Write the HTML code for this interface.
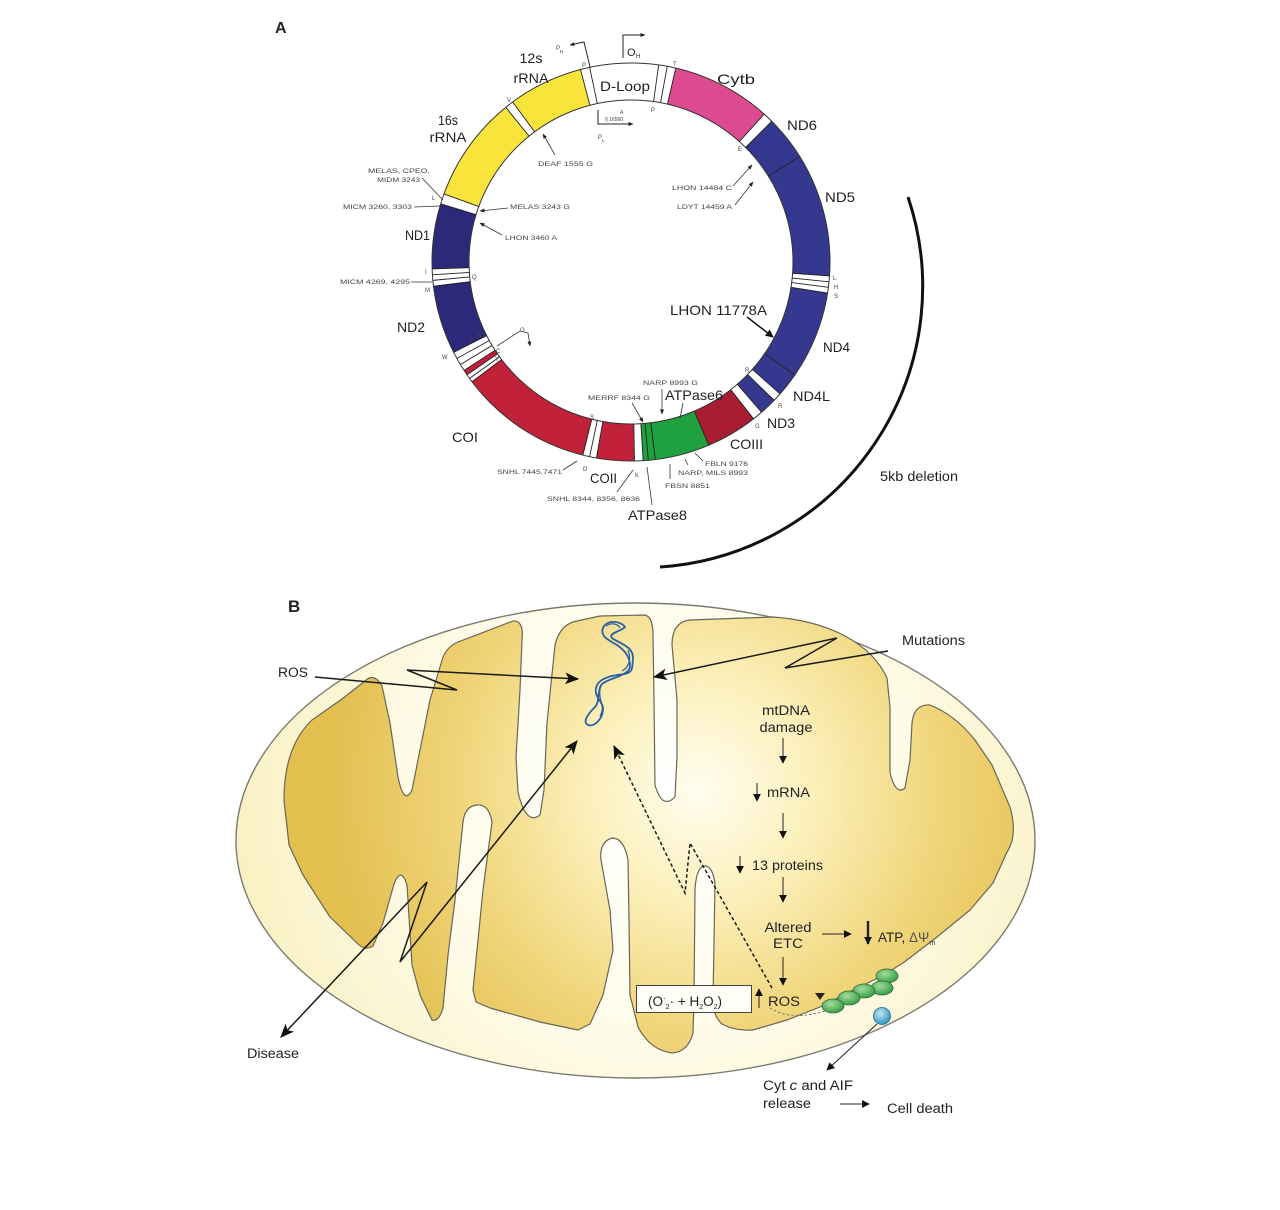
<!DOCTYPE html>
<html>
<head>
<meta charset="utf-8">
<style>
html,body{margin:0;padding:0;background:#fff;}
svg{display:block;}
text{font-family:"Liberation Sans",Arial,sans-serif;fill:#222;}
.t{font-size:14px;}
.b{font-size:13.5px;}
.s{font-size:6.5px;fill:#444;}
.x{font-size:6px;fill:#444;}
</style>
</head>
<body>
<svg width="1280" height="1210" viewBox="0 0 1280 1210" xmlns="http://www.w3.org/2000/svg">
<defs>
  <marker id="big" viewBox="0 0 12 10" refX="11" refY="5" markerWidth="14" markerHeight="12" orient="auto-start-reverse" markerUnits="userSpaceOnUse">
    <path d="M0,0 L12,5 L0,10 L3,5 Z" fill="#111"/>
  </marker>
  <marker id="med" viewBox="0 0 10 10" refX="9" refY="5" markerWidth="8" markerHeight="8" orient="auto-start-reverse" markerUnits="userSpaceOnUse">
    <path d="M0,0 L10,5 L0,10 Z" fill="#111"/>
  </marker>
  <marker id="sm" viewBox="0 0 10 10" refX="9" refY="5" markerWidth="5" markerHeight="5" orient="auto" markerUnits="userSpaceOnUse">
    <path d="M0,1 L10,5 L0,9 Z" fill="#222"/>
  </marker>
  <radialGradient id="outerG" gradientUnits="userSpaceOnUse" cx="660" cy="800" r="430">
    <stop offset="0" stop-color="#ffffff"/>
    <stop offset="0.6" stop-color="#fefbe6"/>
    <stop offset="1" stop-color="#f9f0c2"/>
  </radialGradient>
  <radialGradient id="matG" gradientUnits="userSpaceOnUse" cx="700" cy="790" r="370">
    <stop offset="0" stop-color="#fffdf0"/>
    <stop offset="0.3" stop-color="#fcf0bb"/>
    <stop offset="0.65" stop-color="#f0d57a"/>
    <stop offset="1" stop-color="#e3bf50"/>
  </radialGradient>
  <radialGradient id="grn" cx="0.4" cy="0.35" r="0.7">
    <stop offset="0" stop-color="#a6dc9a"/>
    <stop offset="1" stop-color="#2f9a45"/>
  </radialGradient>
  <radialGradient id="blu" cx="0.4" cy="0.35" r="0.7">
    <stop offset="0" stop-color="#bfe8f5"/>
    <stop offset="1" stop-color="#2a8fb8"/>
  </radialGradient>
</defs>

<!-- ================= PANEL A ================= -->
<text x="275" y="33" style="font-size:16px;font-weight:bold;">A</text>

<!-- ring -->
<g fill="none" stroke-width="37">
  <circle cx="631" cy="262" r="180.5" stroke="#ffffff"/>
  <circle cx="631" cy="262" r="180.5" stroke="#dc4a90" stroke-dasharray="91.36 2000" transform="rotate(-77 631 262)"/>
  <circle cx="631" cy="262" r="180.5" stroke="#33388e" stroke-dasharray="40.95 2000" transform="rotate(-45 631 262)"/>
  <circle cx="631" cy="262" r="180.5" stroke="#34398f" stroke-dasharray="113.41 2000" transform="rotate(-32 631 262)"/>
  <circle cx="631" cy="262" r="180.5" stroke="#34398f" stroke-dasharray="80.33 2000" transform="rotate(9 631 262)"/>
  <circle cx="631" cy="262" r="180.5" stroke="#34398f" stroke-dasharray="22.05 2000" transform="rotate(34.5 631 262)"/>
  <circle cx="631" cy="262" r="180.5" stroke="#34398f" stroke-dasharray="15.75 2000" transform="rotate(44 631 262)"/>
  <circle cx="631" cy="262" r="180.5" stroke="#a81d31" stroke-dasharray="47.25 2000" transform="rotate(52 631 262)"/>
  <circle cx="631" cy="262" r="180.5" stroke="#1fa13f" stroke-dasharray="61.43 2000" transform="rotate(67 631 262)"/>
  <circle cx="631" cy="262" r="180.5" stroke="#c2213a" stroke-dasharray="34.65 2000" transform="rotate(89 631 262)"/>
  <circle cx="631" cy="262" r="180.5" stroke="#c2213a" stroke-dasharray="122.86 2000" transform="rotate(104 631 262)"/>
  <circle cx="631" cy="262" r="180.5" stroke="#c2213a" stroke-dasharray="4.73 2000" transform="rotate(145.5 631 262)"/>
  <circle cx="631" cy="262" r="180.5" stroke="#2c297a" stroke-dasharray="63.01 2000" transform="rotate(153 631 262)"/>
  <circle cx="631" cy="262" r="180.5" stroke="#2c297a" stroke-dasharray="59.86 2000" transform="rotate(178 631 262)"/>
  <circle cx="631" cy="262" r="180.5" stroke="#f8e43a" stroke-dasharray="97.66 2000" transform="rotate(200 631 262)"/>
  <circle cx="631" cy="262" r="180.5" stroke="#f8e43a" stroke-dasharray="68.68 2000" transform="rotate(233.5 631 262)"/>
</g>
<circle cx="631" cy="262" r="199" fill="none" stroke="#333" stroke-width="1"/>
<circle cx="631" cy="262" r="162" fill="none" stroke="#333" stroke-width="1"/>
<!-- radial boundary lines -->
<g stroke="#222" stroke-width="0.9">
  <line x1="631" y1="100" x2="631" y2="63" transform="rotate(345.3 631 262)"/>
  <line x1="631" y1="100" x2="631" y2="63" transform="rotate(348 631 262)"/>
  <line x1="631" y1="100" x2="631" y2="63" transform="rotate(8 631 262)"/>
  <line x1="631" y1="100" x2="631" y2="63" transform="rotate(10.5 631 262)"/>
  <line x1="631" y1="100" x2="631" y2="63" transform="rotate(13 631 262)"/>
  <line x1="631" y1="100" x2="631" y2="63" transform="rotate(42 631 262)"/>
  <line x1="631" y1="100" x2="631" y2="63" transform="rotate(45 631 262)"/>
  <line x1="631" y1="100" x2="631" y2="63" transform="rotate(58 631 262)"/>
  <line x1="631" y1="100" x2="631" y2="63" transform="rotate(94 631 262)"/>
  <line x1="631" y1="100" x2="631" y2="63" transform="rotate(95.7 631 262)"/>
  <line x1="631" y1="100" x2="631" y2="63" transform="rotate(97.3 631 262)"/>
  <line x1="631" y1="100" x2="631" y2="63" transform="rotate(99 631 262)"/>
  <line x1="631" y1="100" x2="631" y2="63" transform="rotate(124.5 631 262)"/>
  <line x1="631" y1="100" x2="631" y2="63" transform="rotate(131.5 631 262)"/>
  <line x1="631" y1="100" x2="631" y2="63" transform="rotate(134 631 262)"/>
  <line x1="631" y1="100" x2="631" y2="63" transform="rotate(139 631 262)"/>
  <line x1="631" y1="100" x2="631" y2="63" transform="rotate(142 631 262)"/>
  <line x1="631" y1="100" x2="631" y2="63" transform="rotate(157 631 262)"/>
  <line x1="631" y1="100" x2="631" y2="63" transform="rotate(173 631 262)"/>
  <line x1="631" y1="100" x2="631" y2="63" transform="rotate(175 631 262)"/>
  <line x1="631" y1="100" x2="631" y2="63" transform="rotate(176.5 631 262)"/>
  <line x1="631" y1="100" x2="631" y2="63" transform="rotate(179 631 262)"/>
  <line x1="631" y1="100" x2="631" y2="63" transform="rotate(190 631 262)"/>
  <line x1="631" y1="100" x2="631" y2="63" transform="rotate(192 631 262)"/>
  <line x1="631" y1="100" x2="631" y2="63" transform="rotate(194 631 262)"/>
  <line x1="631" y1="100" x2="631" y2="63" transform="rotate(233 631 262)"/>
  <line x1="631" y1="100" x2="631" y2="63" transform="rotate(234.2 631 262)"/>
  <line x1="631" y1="100" x2="631" y2="63" transform="rotate(235.5 631 262)"/>
  <line x1="631" y1="100" x2="631" y2="63" transform="rotate(237 631 262)"/>
  <line x1="631" y1="100" x2="631" y2="63" transform="rotate(239 631 262)"/>
  <line x1="631" y1="100" x2="631" y2="63" transform="rotate(241 631 262)"/>
  <line x1="631" y1="100" x2="631" y2="63" transform="rotate(243 631 262)"/>
  <line x1="631" y1="100" x2="631" y2="63" transform="rotate(263 631 262)"/>
  <line x1="631" y1="100" x2="631" y2="63" transform="rotate(264.7 631 262)"/>
  <line x1="631" y1="100" x2="631" y2="63" transform="rotate(266.3 631 262)"/>
  <line x1="631" y1="100" x2="631" y2="63" transform="rotate(268 631 262)"/>
  <line x1="631" y1="100" x2="631" y2="63" transform="rotate(287 631 262)"/>
  <line x1="631" y1="100" x2="631" y2="63" transform="rotate(290 631 262)"/>
  <line x1="631" y1="100" x2="631" y2="63" transform="rotate(321 631 262)"/>
  <line x1="631" y1="100" x2="631" y2="63" transform="rotate(323.5 631 262)"/>
</g>

<!-- gene labels -->
<text class="t" x="531" y="63" text-anchor="middle" textLength="23" lengthAdjust="spacingAndGlyphs">12s</text>
<text class="t" x="531" y="83" text-anchor="middle" textLength="35" lengthAdjust="spacingAndGlyphs">rRNA</text>
<text class="t" x="448" y="125" text-anchor="middle" textLength="20" lengthAdjust="spacingAndGlyphs">16s</text>
<text class="t" x="448" y="142" text-anchor="middle" textLength="37" lengthAdjust="spacingAndGlyphs">rRNA</text>
<text class="t" x="625" y="91" text-anchor="middle" textLength="50" lengthAdjust="spacingAndGlyphs">D-Loop</text>
<text class="t" x="717" y="84" textLength="38" lengthAdjust="spacingAndGlyphs">Cytb</text>
<text class="t" x="787" y="130" textLength="30" lengthAdjust="spacingAndGlyphs">ND6</text>
<text class="t" x="825" y="202" textLength="30" lengthAdjust="spacingAndGlyphs">ND5</text>
<text class="t" x="405" y="240" textLength="25" lengthAdjust="spacingAndGlyphs">ND1</text>
<text class="t" x="397" y="332" textLength="28" lengthAdjust="spacingAndGlyphs">ND2</text>
<text class="t" x="452" y="442" textLength="26" lengthAdjust="spacingAndGlyphs">COI</text>
<text class="t" x="590" y="483" textLength="27" lengthAdjust="spacingAndGlyphs">COII</text>
<text class="t" x="628" y="520" textLength="59" lengthAdjust="spacingAndGlyphs">ATPase8</text>
<text class="t" x="665" y="400" textLength="58" lengthAdjust="spacingAndGlyphs">ATPase6</text>
<text class="t" x="730" y="449" textLength="33" lengthAdjust="spacingAndGlyphs">COIII</text>
<text class="t" x="767" y="428" textLength="28" lengthAdjust="spacingAndGlyphs">ND3</text>
<text class="t" x="793" y="401" textLength="37" lengthAdjust="spacingAndGlyphs">ND4L</text>
<text class="t" x="823" y="352" textLength="27" lengthAdjust="spacingAndGlyphs">ND4</text>
<text class="t" x="670" y="315" textLength="97" lengthAdjust="spacingAndGlyphs">LHON 11778A</text>
<line x1="747" y1="317" x2="773" y2="337" stroke="#111" stroke-width="1.5" marker-end="url(#med)"/>
<text class="t" x="880" y="481" textLength="78" lengthAdjust="spacingAndGlyphs">5kb deletion</text>

<!-- 5kb deletion arc -->
<path d="M908,197 A281,281 0 0 1 660,567" fill="none" stroke="#111" stroke-width="3"/>

<!-- O_H, P_H, P_L -->
<polyline points="623,58 623,35 645,35" fill="none" stroke="#222" stroke-width="1" marker-end="url(#sm)"/>
<text x="627" y="56" style="font-size:11px;">O</text><text x="636" y="58" style="font-size:6px;">H</text>
<polyline points="590,67 584,42 570,45" fill="none" stroke="#222" stroke-width="1" marker-end="url(#sm)"/>
<text x="556" y="50" class="x">P</text><text x="560" y="53" style="font-size:4.5px;">H</text>
<polyline points="598,110 598,124 633,124" fill="none" stroke="#222" stroke-width="1" marker-end="url(#sm)"/>
<text x="605" y="121" style="font-size:5px;fill:#444;">§ 16560</text>
<text x="620" y="114" style="font-size:5px;fill:#444;">A</text>
<text x="598" y="139" class="x">P</text><text x="602" y="142" style="font-size:4.5px;">L</text>

<!-- mutation labels -->
<g stroke="#333" stroke-width="0.8" fill="none">
  <line x1="555" y1="155" x2="543" y2="134" marker-end="url(#sm)"/>
  <line x1="733" y1="186" x2="752" y2="165" marker-end="url(#sm)"/>
  <line x1="735" y1="205" x2="753" y2="182" marker-end="url(#sm)"/>
  <line x1="508" y1="208" x2="480" y2="211" marker-end="url(#sm)"/>
  <line x1="502" y1="235" x2="480" y2="223" marker-end="url(#sm)"/>
  <line x1="422" y1="178" x2="443" y2="200"/>
  <line x1="414" y1="207" x2="440" y2="206"/>
  <line x1="411" y1="282" x2="432" y2="282"/>
  <line x1="662" y1="389" x2="662" y2="414" marker-end="url(#sm)"/>
  <line x1="683" y1="403" x2="680" y2="418"/>
  <line x1="632" y1="403" x2="643" y2="422" marker-end="url(#sm)"/>
  <line x1="563" y1="470" x2="577" y2="461"/>
  <line x1="617" y1="492" x2="633" y2="470"/>
  <line x1="652" y1="505" x2="647" y2="467"/>
  <line x1="703" y1="461" x2="695" y2="453"/>
  <line x1="688" y1="465" x2="685" y2="459"/>
  <line x1="670" y1="479" x2="670" y2="464"/>
  <polyline points="497,346 520,331 528,333 530,346" marker-end="url(#sm)"/>
</g>
<text class="s" x="538" y="166" textLength="55" lengthAdjust="spacingAndGlyphs">DEAF 1555 G</text>
<text class="s" x="672" y="190" textLength="60" lengthAdjust="spacingAndGlyphs">LHON 14484 C</text>
<text class="s" x="677" y="209" textLength="55" lengthAdjust="spacingAndGlyphs">LDYT 14459 A</text>
<text class="s" x="510" y="209" textLength="60" lengthAdjust="spacingAndGlyphs">MELAS 3243 G</text>
<text class="s" x="505" y="240" textLength="52" lengthAdjust="spacingAndGlyphs">LHON 3460 A</text>
<text class="s" x="368" y="173" textLength="62" lengthAdjust="spacingAndGlyphs">MELAS, CPEO,</text>
<text class="s" x="377" y="182" textLength="43" lengthAdjust="spacingAndGlyphs">MIDM 3243</text>
<text class="s" x="343" y="209" textLength="69" lengthAdjust="spacingAndGlyphs">MICM 3260, 3303</text>
<text class="s" x="340" y="284" textLength="70" lengthAdjust="spacingAndGlyphs">MICM 4269, 4295</text>
<text class="s" x="643" y="385" textLength="55" lengthAdjust="spacingAndGlyphs">NARP 8993 G</text>
<text class="s" x="588" y="400" textLength="62" lengthAdjust="spacingAndGlyphs">MERRF 8344 G</text>
<text class="s" x="497" y="474" textLength="65" lengthAdjust="spacingAndGlyphs">SNHL 7445,7471</text>
<text class="s" x="547" y="501" textLength="93" lengthAdjust="spacingAndGlyphs">SNHL 8344, 8356, 8636</text>
<text class="s" x="705" y="466" textLength="43" lengthAdjust="spacingAndGlyphs">FBLN 9176</text>
<text class="s" x="678" y="475" textLength="70" lengthAdjust="spacingAndGlyphs">NARP, MILS 8993</text>
<text class="s" x="665" y="488" textLength="45" lengthAdjust="spacingAndGlyphs">FBSN 8851</text>
<!-- tRNA letters -->
<g class="x">
<text class="x" x="507" y="102">V</text>
<text class="x" x="582" y="67">P</text>
<text class="x" x="673" y="66">T</text>
<text class="x" x="651" y="112">P</text>
<text class="x" x="738" y="151">E</text>
<text class="x" x="432" y="200">L</text>
<text class="x" x="425" y="274">I</text>
<text class="x" x="472" y="279">Q</text>
<text class="x" x="425" y="292">M</text>
<text class="x" x="442" y="359">W</text>
<text class="x" x="469" y="340">A</text>
<text class="x" x="477" y="337">N</text>
<text class="x" x="496" y="353">C</text>
<text class="x" x="495" y="361">Y</text>
<text class="x" x="520" y="332">O</text>
<text class="x" x="590" y="419">S</text>
<text class="x" x="583" y="471">D</text>
<text class="x" x="635" y="477">K</text>
<text class="x" x="745" y="372">R</text>
<text class="x" x="778" y="408">R</text>
<text class="x" x="755" y="428">G</text>
<text class="x" x="833" y="280">L</text>
<text class="x" x="834" y="289">H</text>
<text class="x" x="834" y="298">S</text>
</g>

<!-- ================= PANEL B ================= -->
<text x="288" y="612" style="font-size:17px;font-weight:bold;">B</text>

<ellipse cx="635.5" cy="840.5" rx="399.5" ry="237.5" fill="url(#outerG)" stroke="#7a7a70" stroke-width="1.4"/>

<path fill="url(#matG)" stroke="#6a6558" stroke-width="1.2" stroke-linejoin="round" d="
M284,800 C284,765 293,738 312,720 L342,699 L365,681 Q374,672 382,686
L390,723 L398,777 Q404,806 412,790 L420,750 L430,700 L443,657 Q448,646 458,642
L513,621 Q524,620 522,640 L520,690 L516,757 L518,792 Q526,826 540,815 L544,790 L547,723 L555,645 Q560,624 577,621
L600,616 L645,615 Q653,617 653,635 L654,700 L655,785 Q662,810 675,797 L677,757 L677,700 L672,645 Q672,622 690,620
L773,617 Q815,620 845,636 Q875,652 887,678 L890,707 L890,773 Q896,796 905,788 L910,760 L912,723 Q914,704 930,705
Q955,715 975,740 L992,765 L1010,807 Q1018,835 1007,852 L993,883 L970,910 L937,937 L903,963 L880,977
L853,990 L820,1007 L787,1020 L753,1030 Q735,1031 722,1024 Q713,1016 713,1000
L715,883 Q712,864 703,866 Q696,870 695,890 L694,1000 L693,1033 Q688,1052 672,1053 Q650,1050 638,1027
L630,995 L629,920 L628,860 Q624,838 612,838 Q599,842 601,860 L610,910 L613,950 L603,995 L590,1024 L578,1030
L540,1022 L490,1008 L476,1002 L473,990 L483,890 L492,822 Q489,804 477,805 Q465,806 463,822 L455,900 L448,955
L443,1008 Q439,1022 432,1020 L420,995 L412,965 L409,917 L407,885 Q401,866 394,884 L383,923 L373,946
Q365,951 358,944 L330,917 L303,875 L289,845 Z"/>

<!-- mtDNA squiggle -->
<path d="M603,628 C606,620 620,620 625,627 C620,632 608,633 612,638 C620,644 633,646 633,658 C632,666 634,672 625,674 C612,675 598,678 596,688 C594,698 604,702 603,710 C602,720 594,727 588,725 C582,722 588,714 595,707 C600,702 597,690 602,684 C608,678 630,676 630,666 C630,656 624,650 617,645 C608,640 600,636 603,628 Z" fill="none" stroke="#2a5fa8" stroke-width="1.8"/>
<path d="M606,626 C612,622 618,624 620,628 M628,650 C632,660 628,668 622,671 M600,690 C598,700 606,706 600,716" fill="none" stroke="#2a5fa8" stroke-width="1.2"/>

<!-- ROS zigzag arrow -->
<polyline points="315,677 457,690 407,670 578,679" fill="none" stroke="#1a1a1a" stroke-width="1.5" marker-end="url(#big)"/>
<text class="b" x="278" y="677" textLength="30" lengthAdjust="spacingAndGlyphs">ROS</text>
<!-- Mutations zigzag arrow -->
<polyline points="888,651 785,668 837,638 654,677" fill="none" stroke="#1a1a1a" stroke-width="1.5" marker-end="url(#big)"/>
<text class="b" x="902" y="645" textLength="63" lengthAdjust="spacingAndGlyphs">Mutations</text>
<!-- Disease double arrow -->
<path d="M577,741 L400,962 L427,882 L281,1037" fill="none" stroke="#1a1a1a" stroke-width="1.5" marker-start="url(#big)" marker-end="url(#big)"/>
<text class="b" x="247" y="1058" textLength="52" lengthAdjust="spacingAndGlyphs">Disease</text>
<!-- dashed ROS feedback -->
<path d="M772,988 L690,843 L685,893 L614,746" fill="none" stroke="#1a1a1a" stroke-width="1.5" stroke-dasharray="3.5,2.5" marker-end="url(#big)"/>
<path d="M770,1008 Q792,1022 828,1010" fill="none" stroke="#777" stroke-width="1" stroke-dasharray="2.5,2"/>
<polygon points="815,993 825,993 820,1000" fill="#222"/>

<!-- flow -->
<g stroke="#222" stroke-width="1" fill="none">
  <line x1="783" y1="738" x2="783" y2="763" marker-end="url(#med)"/>
  <line x1="757" y1="783" x2="757" y2="801" marker-end="url(#med)"/>
  <line x1="783" y1="813" x2="783" y2="838" marker-end="url(#med)"/>
  <line x1="740" y1="856" x2="740" y2="873" marker-end="url(#med)"/>
  <line x1="783" y1="877" x2="783" y2="902" marker-end="url(#med)"/>
  <line x1="822" y1="934" x2="851" y2="934" marker-end="url(#med)"/>
  <line x1="868" y1="921" x2="868" y2="944" stroke-width="2.4" marker-end="url(#med)"/>
  <line x1="783" y1="957" x2="783" y2="985" marker-end="url(#med)"/>
  <line x1="759" y1="1008" x2="759" y2="989" marker-end="url(#med)"/>
  <line x1="877" y1="1024" x2="827" y2="1070" marker-end="url(#med)"/>
  <line x1="840" y1="1104" x2="869" y2="1104" marker-end="url(#med)"/>
</g>
<text class="b" x="786" y="715" text-anchor="middle" textLength="48" lengthAdjust="spacingAndGlyphs">mtDNA</text>
<text class="b" x="786" y="732" text-anchor="middle" textLength="53" lengthAdjust="spacingAndGlyphs">damage</text>
<text class="b" x="767" y="797" textLength="43" lengthAdjust="spacingAndGlyphs">mRNA</text>
<text class="b" x="752" y="870" textLength="71" lengthAdjust="spacingAndGlyphs">13 proteins</text>
<text class="b" x="788" y="932" text-anchor="middle" textLength="47" lengthAdjust="spacingAndGlyphs">Altered</text>
<text class="b" x="788" y="948" text-anchor="middle" textLength="30" lengthAdjust="spacingAndGlyphs">ETC</text>
<text class="b" x="878" y="942">ATP, <tspan fill="#555">ΔΨ</tspan><tspan style="font-size:7px;" dy="3">m</tspan></text>
<text class="b" x="768" y="1006" textLength="32" lengthAdjust="spacingAndGlyphs">ROS</text>
<rect x="636.5" y="985.5" width="115" height="27" fill="#fffef6" stroke="#444" stroke-width="1"/>
<text class="b" x="648" y="1006">(O<tspan style="font-size:8px;" dy="-5">·</tspan><tspan style="font-size:7px;" dy="8">2</tspan><tspan dy="-3">· + H</tspan><tspan style="font-size:7px;" dy="3">2</tspan><tspan dy="-3">O</tspan><tspan style="font-size:7px;" dy="3">2</tspan><tspan dy="-3">)</tspan></text>

<!-- particles -->
<g stroke="#2d6b30" stroke-width="0.8" fill="url(#grn)">
  <ellipse cx="887" cy="976" rx="11" ry="7"/>
  <ellipse cx="882" cy="988" rx="11" ry="7"/>
  <ellipse cx="864" cy="991" rx="11" ry="7"/>
  <ellipse cx="849" cy="998" rx="11" ry="7"/>
  <ellipse cx="833" cy="1006" rx="11" ry="7"/>
</g>
<circle cx="882" cy="1016" r="8.5" fill="url(#blu)" stroke="#1f6f8f" stroke-width="0.8"/>

<text class="b" x="763" y="1090" textLength="90" lengthAdjust="spacingAndGlyphs">Cyt <tspan font-style="italic">c</tspan> and AIF</text>
<text class="b" x="763" y="1108" textLength="48" lengthAdjust="spacingAndGlyphs">release</text>
<text class="b" x="887" y="1113" textLength="66" lengthAdjust="spacingAndGlyphs">Cell death</text>
</svg>
</body>
</html>
